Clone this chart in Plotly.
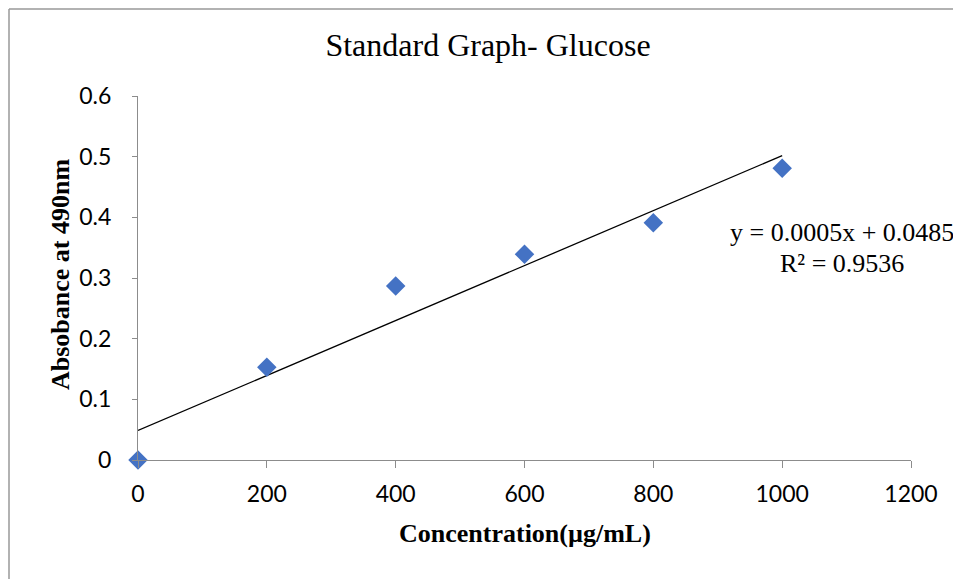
import numpy as np
import plotly.graph_objects as go

concentration = [0, 200, 400, 600, 800, 1000]
absorbance = [0.0, 0.153, 0.287, 0.339, 0.391, 0.481]
x_ticks = [0, 200, 400, 600, 800, 1000, 1200]
y_ticks = [0, 0.1, 0.2, 0.3, 0.4, 0.5, 0.6]
y_tick_text = ["0", "0.1", "0.2", "0.3", "0.4", "0.5", "0.6"]
equation_line = "y = 0.0005x + 0.0485"
r2_line = "R² = 0.9536"

slope, intercept = np.polyfit(concentration, absorbance, 1)
trend_x = [min(concentration), max(concentration)]
trend_y = [slope * v + intercept for v in trend_x]

W, H = 961, 579
OFF = 8  # page body offset
L, R, T, B = 130, 58, 88, 127
pw, ph = W - L - R, H - T - B

def px_to_paper_x(px):
    return (px - OFF - L) / pw

def px_to_paper_y(py):
    return (H - B - (py - OFF)) / ph

fig = go.Figure()
fig.add_trace(go.Scatter(
    x=trend_x, y=trend_y, mode="lines",
    line=dict(color="black", width=1.3),
    showlegend=False, hoverinfo="skip", cliponaxis=False))
fig.add_trace(go.Scatter(
    x=concentration, y=absorbance, mode="markers",
    marker=dict(symbol="diamond", size=15, color="#4472C4"),
    showlegend=False, cliponaxis=False))

axis_gray = "#8c8c8c"
serif = "Liberation Serif"
fig.update_layout(
    width=W, height=H,
    margin=dict(l=L, r=R, t=T, b=B, autoexpand=False),
    paper_bgcolor="white", plot_bgcolor="white",
    title=dict(text="Standard Graph- Glucose", x=(488 - OFF) / W, xref="container", xanchor="center",
               y=1 - (45 - OFF) / H, yref="container", yanchor="middle",
               font=dict(family=serif, size=32, color="black")),
    xaxis=dict(range=[0, 1200], tickvals=x_ticks, showgrid=False, zeroline=False,
               showline=True, linecolor=axis_gray, linewidth=1,
               ticks="outside", ticklen=7, tickcolor=axis_gray, ticklabelstandoff=6,
               tickfont=dict(family="Lato", size=23, color="black")),
    yaxis=dict(range=[0, 0.6], tickvals=y_ticks, ticktext=y_tick_text, showgrid=False, zeroline=False,
               showline=True, linecolor=axis_gray, linewidth=1,
               ticks="outside", ticklen=5, tickcolor=axis_gray, ticklabelstandoff=16,
               tickfont=dict(family="Lato", size=23, color="black")),
    annotations=[
        dict(text="<b>Concentration(µg/mL)</b>", xref="paper", yref="paper",
             x=px_to_paper_x(525), y=px_to_paper_y(533), xanchor="center", yanchor="middle",
             showarrow=False, font=dict(family=serif, size=26, color="black")),
        dict(text="<b>Absobance at 490nm</b>", xref="paper", yref="paper", textangle=-90,
             x=px_to_paper_x(60), y=px_to_paper_y(275), xanchor="center", yanchor="middle",
             showarrow=False, font=dict(family=serif, size=26, color="black")),
        dict(text=equation_line, xref="paper", yref="paper",
             x=px_to_paper_x(842), y=px_to_paper_y(232), xanchor="center", yanchor="middle",
             showarrow=False, font=dict(family=serif, size=26, color="black")),
        dict(text=r2_line, xref="paper", yref="paper",
             x=px_to_paper_x(842), y=px_to_paper_y(263), xanchor="center", yanchor="middle",
             showarrow=False, font=dict(family=serif, size=26, color="black")),
    ],
    shapes=[
        dict(type="line", xref="paper", yref="paper",
             x0=px_to_paper_x(OFF + 1), x1=px_to_paper_x(OFF + 1), y0=px_to_paper_y(OFF + 1), y1=px_to_paper_y(600),
             line=dict(color="#999999", width=1.5)),
        dict(type="line", xref="paper", yref="paper",
             x0=px_to_paper_x(OFF + 1), x1=px_to_paper_x(980), y0=px_to_paper_y(OFF + 1), y1=px_to_paper_y(OFF + 1),
             line=dict(color="#999999", width=1.5)),
    ],
)

fig.write_html("out.html")
